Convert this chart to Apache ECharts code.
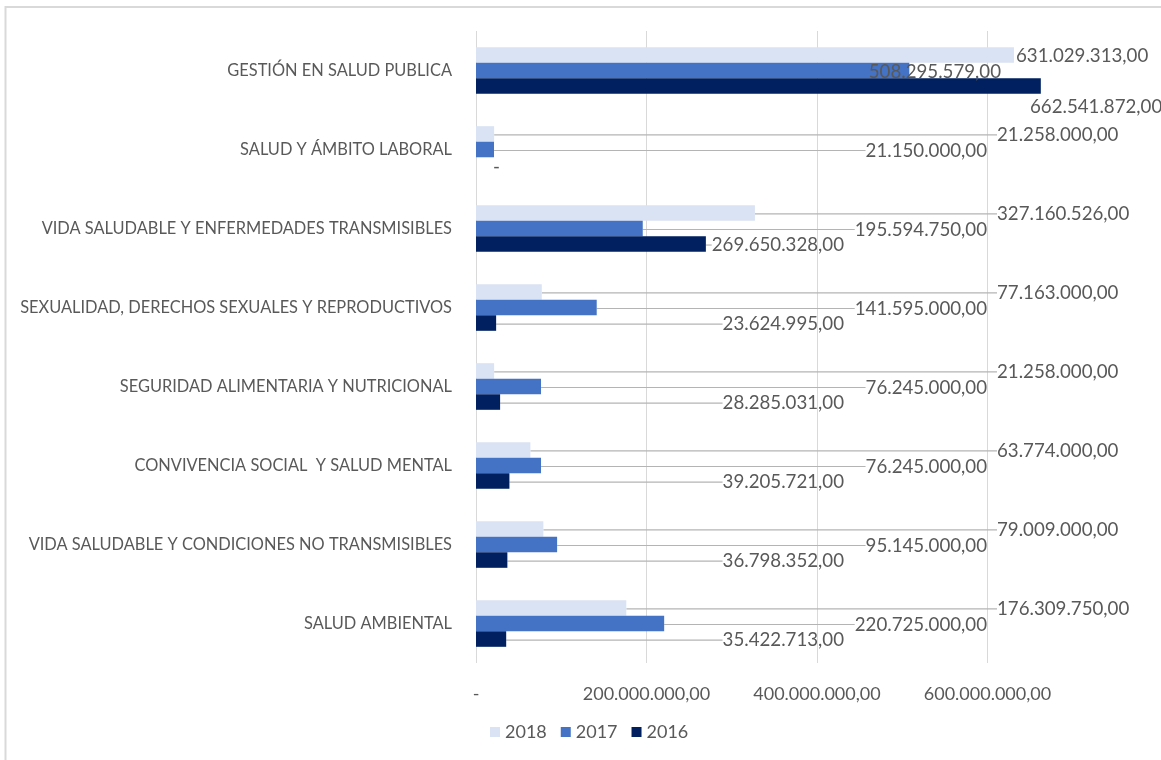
<!DOCTYPE html>
<html>
<head>
<meta charset="utf-8">
<script src="https://cdn.jsdelivr.net/npm/echarts@6/dist/echarts.min.js"></script>
<style>html,body{margin:0;padding:0;background:#fff}#c{width:1161px;height:760px}</style>
</head>
<body>
<div id="c"></div>
<script>
const categories = ['GESTIÓN EN SALUD PUBLICA','SALUD Y ÁMBITO LABORAL','VIDA SALUDABLE Y ENFERMEDADES TRANSMISIBLES','SEXUALIDAD, DERECHOS SEXUALES Y REPRODUCTIVOS','SEGURIDAD ALIMENTARIA Y NUTRICIONAL','CONVIVENCIA SOCIAL  Y SALUD MENTAL','VIDA SALUDABLE Y CONDICIONES NO TRANSMISIBLES','SALUD AMBIENTAL'];
const seriesNames = ['2018','2017','2016'];
const v2018 = [631029313, 21258000, 327160526, 77163000, 21258000, 63774000, 79009000, 176309750];
const v2017 = [508295579, 21150000, 195594750, 141595000, 76245000, 76245000, 95145000, 220725000];
const v2016 = [662541872, 0, 269650328, 23624995, 28285031, 39205721, 36798352, 35422713];
const axisTicks = [0, 200000000, 400000000, 600000000];

const FONT = 'Lato';
const TXT = '#595959';
const colors = ['#dae3f3', '#4472c4', '#002060'];

function fmt(v) {
  if (v === 0) return '-';
  return Math.round(v).toString().replace(/\B(?=(\d{3})+(?!\d))/g, '.') + ',00';
}

const chart = echarts.init(document.getElementById('c'), null, {renderer: 'canvas'});

function layout(params) {
  const r = params.rect;
  const lw = params.labelRect.width;
  const cy = r.y + r.height / 2;
  const end = r.x + r.width;
  const s = params.seriesIndex;
  const i = params.dataIndex;
  const dy = 1;
  if (i === 0) {
    if (s === 0) return {x: end + 2, y: cy + dy, align: 'left', verticalAlign: 'middle'};
    if (s === 1) return {x: 1001, y: cy + dy, align: 'right', verticalAlign: 'middle'};
    return {x: 1030, y: cy + 21, align: 'left', verticalAlign: 'middle'};
  }
  if (s === 2 && params.text === '-') {
    return {x: end + 17, y: cy + 2, align: 'left', verticalAlign: 'middle'};
  }
  let lineEnd, x, align;
  if (s === 0) { x = 997; align = 'left'; lineEnd = 994; }
  else if (s === 1) { x = 987; align = 'right'; lineEnd = 987 - lw - 3; }
  else { x = 844; align = 'right'; lineEnd = 844 - lw - 3; }
  if (lineEnd < end) lineEnd = end;
  return {x: x, y: cy + dy, align: align, verticalAlign: 'middle', labelLinePoints: [[end, cy],[lineEnd, cy]]};
}

function mkSeries(name, data, idx) {
  return {
    name: name,
    type: 'bar',
    data: data.map((v, i) => (v === 0 || i === 0) ? {value: v, labelLine: {show: false}} : v),
    barGap: '0%',
    barCategoryGap: '41%',
    itemStyle: {color: colors[idx]},
    label: {
      show: true,
      position: 'right',
      formatter: p => fmt(p.value),
      color: TXT,
      fontFamily: FONT,
      fontSize: 18.7
    },
    labelLine: {show: true, lineStyle: {color: '#b4b4b4', width: 1.2}},
    labelLayout: layout,
    emphasis: {disabled: true},
    animation: false
  };
}

chart.setOption({
  animation: false,
  backgroundColor: '#fff',
  textStyle: {fontFamily: FONT},
  graphic: [{
    type: 'rect', shape: {x: 5.5, y: 7, width: 1200, height: 800},
    style: {fill: 'none', stroke: '#d9d9d9', lineWidth: 2}, silent: true, z: -1
  }],
  legend: {
    data: seriesNames,
    bottom: 14,
    left: 485,
    icon: 'rect',
    itemWidth: 10,
    itemHeight: 10,
    itemGap: 14,
    textStyle: {color: TXT, fontFamily: FONT, fontSize: 18}
  },
  grid: {left: 476, right: 88.25, top: 31, bottom: 97, containLabel: false},
  xAxis: {
    type: 'value',
    min: 0,
    max: 700000000,
    interval: 200000000,
    axisLine: {show: false},
    axisTick: {show: false},
    splitLine: {show: true, showMaxLine: false, lineStyle: {color: '#d9d9d9', width: 1}},
    axisLabel: {
      color: TXT, fontFamily: FONT, fontSize: 18, margin: 22,
      showMaxLabel: false,
      formatter: v => axisTicks.indexOf(v) >= 0 ? fmt(v) : ''
    }
  },
  yAxis: {
    type: 'category',
    inverse: true,
    data: categories,
    axisLine: {show: false},
    axisTick: {show: false},
    axisLabel: {color: TXT, fontFamily: FONT, fontSize: 16.4, margin: 24}
  },
  series: [mkSeries(seriesNames[0], v2018, 0), mkSeries(seriesNames[1], v2017, 1), mkSeries(seriesNames[2], v2016, 2)]
});
</script>
</body>
</html>
